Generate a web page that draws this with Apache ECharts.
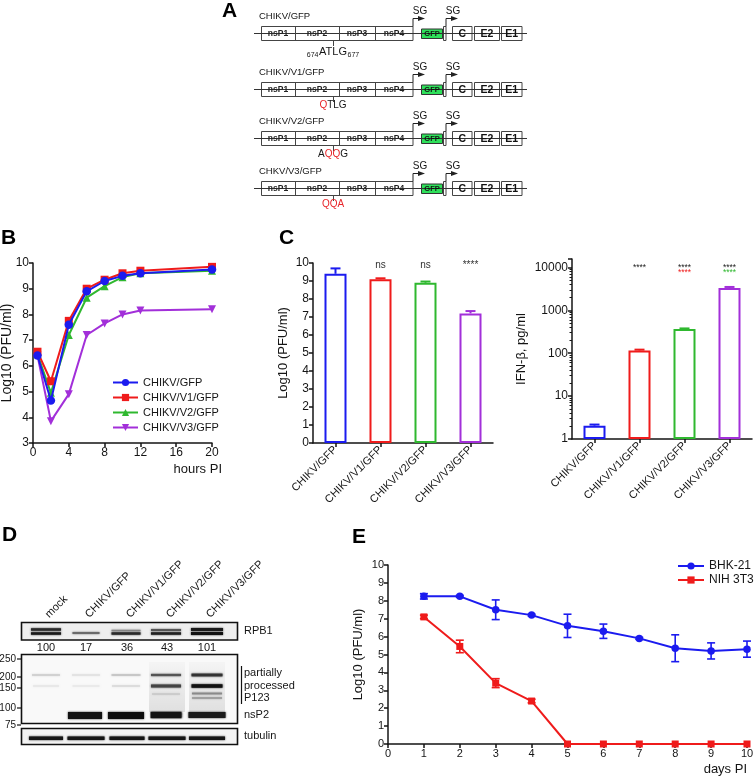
<!DOCTYPE html>
<html><head><meta charset="utf-8">
<script src="https://cdn.jsdelivr.net/npm/echarts@6/dist/echarts.min.js"></script>
<style>html,body{margin:0;padding:0;background:#fff}#c{width:754px;height:780px}</style>
</head><body><div id="c"></div>
<script>
// ---------- Panel B : growth curves ----------
const bHours = [0.5, 2, 4, 6, 8, 10, 12, 20];
const bNames = ['CHIKV/GFP', 'CHIKV/V1/GFP', 'CHIKV/V2/GFP', 'CHIKV/V3/GFP'];
const bGFP = [6.4, 4.65, 7.6, 8.9, 9.3, 9.5, 9.6, 9.75];
const bV1  = [6.55, 5.4, 7.75, 9.0, 9.35, 9.6, 9.7, 9.85];
const bV2  = [6.45, 4.95, 7.2, 8.65, 9.1, 9.45, 9.6, 9.7];
const bV3  = [6.4, 3.85, 4.9, 7.2, 7.65, 8.0, 8.15, 8.2];
// ---------- Panel C : titers and IFN-beta ----------
const cCategories = ['CHIKV/GFP', 'CHIKV/V1/GFP', 'CHIKV/V2/GFP', 'CHIKV/V3/GFP'];
const cTiter    = [9.4, 9.1, 8.9, 7.2];
const cTiterErr = [0.3, 0.05, 0.07, 0.13];
const cTiterSig = ['', 'ns', 'ns', '****'];
const cIfn      = [2.05, 116, 366, 3300];
const cIfnErr   = [0.12, 5, 12, 200];
const cIfnSig1  = ['', '****', '****', '****'];
const cIfnSig2  = ['', '', '****', '****'];
// ---------- Panel D : western blot ----------
const dLanes = ['mock', 'CHIKV/GFP', 'CHIKV/V1/GFP', 'CHIKV/V2/GFP', 'CHIKV/V3/GFP'];
const dRpb1 = [100, 17, 36, 43, 101];
const dMarkers = ['250', '200', '150', '100', '75'];
const dRightLabels = ['RPB1', 'partially', 'processed', 'P123', 'nsP2', 'tubulin'];
// ---------- Panel E : persistence ----------
const eDays = [1, 2, 3, 4, 5, 6, 7, 8, 9, 10];
const eBHK    = [8.25, 8.25, 7.5, 7.2, 6.6, 6.3, 5.9, 5.35, 5.2, 5.3];
const eBHKErr = [0.15, 0.05, 0.55, 0.05, 0.65, 0.4, 0.05, 0.75, 0.45, 0.45];
const eNIH    = [7.1, 5.45, 3.4, 2.4, 0, 0, 0, 0, 0, 0];
const eNIHErr = [0.1, 0.35, 0.25, 0.1, 0, 0, 0, 0, 0, 0];
// ---------- Panel A : constructs ----------
const aConstructs = ['CHIKV/GFP', 'CHIKV/V1/GFP', 'CHIKV/V2/GFP', 'CHKV/V3/GFP'];
const aGenes = ['nsP1', 'nsP2', 'nsP3', 'nsP4'];
const aStructural = ['C', 'E2', 'E1'];

const FONT = 'Liberation Sans, Arial, Helvetica, sans-serif';
const INK = '#151515';
const colB = ['#1b1bef', '#ef1b1b', '#2fb82f', '#a22fd9'];
const RED = '#e8262a';

function valAxis(o) {
  return Object.assign({
    type: 'value',
    nameMoveOverlap: false,
    axisLine: {show: true, onZero: false, lineStyle: {color: INK, width: 1.5}},
    axisTick: {show: true, inside: false, length: 4, lineStyle: {color: INK, width: 1.5}},
    axisLabel: {color: INK, fontSize: 12, fontFamily: FONT, margin: 4},
    splitLine: {show: false},
    nameTextStyle: {color: INK, fontSize: 13, fontFamily: FONT}
  }, o);
}

// ---------- graphic helpers ----------
const G = [];
function T(x, y, text, o) {
  o = o || {};
  const st = {
    text: text, fill: o.fill || INK, fontSize: o.size || 10,
    fontWeight: o.bold ? 'bold' : 'normal', fontFamily: FONT,
    align: o.align || 'left', verticalAlign: o.va || 'middle',
    textAlign: o.align || 'left', textVerticalAlign: o.va || 'middle'
  };
  if (o.rich) st.rich = o.rich;
  G.push({type: 'text', x: x, y: y, rotation: o.rot || 0, z: 100, silent: true, style: st});
}
function R(x, y, w, h, fill, stroke, lw, extra) {
  const st = Object.assign({fill: fill, stroke: stroke || null, lineWidth: lw || 0}, extra || {});
  G.push({type: 'rect', shape: {x: x, y: y, width: w, height: h}, z: 90, silent: true, style: st});
}
function L(x1, y1, x2, y2, stroke, lw) {
  G.push({type: 'line', shape: {x1: x1, y1: y1, x2: x2, y2: y2}, z: 91, silent: true,
    style: {stroke: stroke || INK, lineWidth: lw || 1}});
}
function P(points, fill) {
  G.push({type: 'polygon', shape: {points: points}, z: 92, silent: true, style: {fill: fill}});
}

// panel letters
[['A', 222, 1], ['B', 1, 228], ['C', 279, 228], ['D', 2, 525], ['E', 352, 527]].forEach(p =>
  T(p[1], p[2], p[0], {size: 21, bold: true, va: 'top', fill: '#000'}));

// ---------- Panel A drawing ----------
const rowTops = [26.5, 82.5, 131.5, 181.5];
const mutRich = {
  r: {fill: RED, fontSize: 10, fontFamily: FONT},
  k: {fill: INK, fontSize: 10, fontFamily: FONT}
};
const mutTexts = ['', '{r|Q}{k|TLG}', '{k|A}{r|QQ}{k|G}', '{r|QQA}'];
aConstructs.forEach((name, r) => {
  const t = rowTops[r], mid = t + 7;
  T(259, t - 10, name, {size: 9.5});
  L(254, mid, 527, mid, '#333', 1);
  R(261.5, t, 151.5, 14, '#fff', '#444', 1);
  [295.5, 339.5, 375.5].forEach(x => L(x, t, x, t + 14, '#444', 1));
  const geneCx = [278, 317, 357, 394];
  aGenes.forEach((gn, i) => T(geneCx[i], mid + 0.5, gn, {size: 8.5, bold: true, align: 'center', fill: '#222'}));
  R(421.5, t + 2.5, 21, 9.5, '#2ee05a', '#333', 1);
  T(432, mid + 0.5, 'GFP', {size: 7.5, bold: true, align: 'center', fill: '#111'});
  R(443.5, t, 2.5, 14, '#fff', '#444', 1);
  const sb = [[452.5, 19.5], [474.5, 25], [501.5, 20.5]];
  aStructural.forEach((sname, i) => {
    R(sb[i][0], t, sb[i][1], 14, '#fff', '#444', 1);
    T(sb[i][0] + sb[i][1] / 2, mid + 0.5, sname, {size: 10.5, bold: true, align: 'center', fill: '#111'});
  });
  [413, 446].forEach(x => {
    L(x, t, x, t - 8, '#222', 1);
    L(x, t - 8, x + 7, t - 8, '#222', 1);
    P([[x + 5, t - 10.5], [x + 12, t - 8], [x + 5, t - 5.5]], '#222');
    T(x + 7, t - 15, 'SG', {size: 10, align: 'center'});
  });
  L(333.5, t + 14, 333.5, t + 19.5, '#444', 1);
  if (r === 0) {
    T(333, t + 25.5, 'ATLG', {size: 11, align: 'center'});
    T(318.5, t + 28.5, '674', {size: 7, align: 'right'});
    T(347.5, t + 28.5, '677', {size: 7});
  } else {
    T(333, t + 23, mutTexts[r], {size: 10, align: 'center', rich: mutRich});
  }
});

// ---------- Panel D drawing (blot) ----------
const laneX = [46, 86, 127, 167, 207];
dLanes.forEach((n, i) => T(laneX[i] + 5, 620, n, {size: 11, va: 'bottom', rot: Math.PI / 4}));
R(21.5, 622.5, 216, 17.5, '#eeeeee', '#111', 1.6);
R(21.5, 654.5, 216, 69, '#f9f9f9', '#111', 1.6);
R(21.5, 728.5, 216, 16, '#f3f3f3', '#111', 1.6);
dRpb1.forEach((v, i) => T(laneX[i], 647.5, String(v), {size: 11, align: 'center'}));
const markerY = [659, 677, 688, 708, 725];
dMarkers.forEach((m, i) => { T(16, markerY[i], m, {size: 10, align: 'right'}); L(17, markerY[i], 21, markerY[i], '#111', 1.2); });
const rightY = [631, 673, 686, 698, 715, 736];
dRightLabels.forEach((s, i) => T(244, rightY[i], s, {size: 11}));
L(241.5, 666, 241.5, 704, '#111', 1.2);
function band(cx, cy, w, h, color, blur) {
  R(cx - w / 2, cy - h / 2, w, h, color, null, 0, {shadowBlur: blur == null ? 2 : blur, shadowColor: color});
}
// smear lanes 4 and 5
[3, 4].forEach(i => R(laneX[i] - 18, 662, 36, 50, {
  type: 'linear', x: 0, y: 0, x2: 0, y2: 1,
  colorStops: [{offset: 0, color: 'rgba(0,0,0,0.02)'}, {offset: 1, color: 'rgba(0,0,0,0.10)'}]
}, null, 0));
// RPB1
band(46, 629.5, 30, 2.5, '#2a2a2a'); band(46, 633.5, 30, 2.5, '#1a1a1a');
band(86, 633, 27, 2, '#6a6a6a');
band(126, 630.5, 29, 1.5, '#888'); band(126, 633.5, 29, 2.5, '#2a2a2a');
band(166, 630, 30, 2, '#555'); band(166, 633.5, 30, 2.5, '#222');
band(207, 629.5, 32, 3, '#1a1a1a'); band(207, 633.5, 32, 3, '#111');
// P123 bands (200, 150)
band(46, 675, 28, 1.3, '#c8c8c8'); band(86, 675, 28, 1.2, '#dcdcdc'); band(126, 675, 29, 1.3, '#bbbbbb');
band(166, 675, 30, 2.2, '#555'); band(207, 675, 31, 2.8, '#333');
band(46, 686, 26, 1, '#e0e0e0'); band(86, 686, 27, 1, '#e3e3e3'); band(126, 686, 28, 1.2, '#d4d4d4');
band(166, 686, 30, 3, '#444'); band(207, 686, 31, 3.5, '#111');
band(207, 693.5, 30, 1.8, '#8a8a8a'); band(207, 698, 30, 1.6, '#9a9a9a'); band(166, 694, 28, 1.2, '#c4c4c4');
// nsP2
band(85, 715.5, 34, 7, '#111'); band(126, 715.5, 36, 7, '#0d0d0d');
band(166, 715, 31, 6.5, '#141414'); band(207, 715, 37, 6, '#1a1a1a');
// tubulin
[34, 37, 35, 37, 36].forEach((w, i) => band(laneX[i], 738.2, w, 3.4, '#151515'));

// ---------- ECharts options ----------
const chart = echarts.init(document.getElementById('c'), null, {renderer: 'canvas'});

function errBars(capHalf, lw, colorFn, both) {
  return function (params, api) {
    const x = api.value(0), lo = api.value(1), hi = api.value(2);
    if (!(hi > lo)) return null;
    const a = api.coord([x, lo]), b = api.coord([x, hi]);
    const c = colorFn(params.dataIndex);
    const ch = [
      {type: 'line', shape: {x1: a[0], y1: a[1], x2: b[0], y2: b[1]}, style: {stroke: c, lineWidth: lw}},
      {type: 'line', shape: {x1: b[0] - capHalf, y1: b[1], x2: b[0] + capHalf, y2: b[1]}, style: {stroke: c, lineWidth: lw}}
    ];
    if (both) ch.push({type: 'line', shape: {x1: a[0] - capHalf, y1: a[1], x2: a[0] + capHalf, y2: a[1]}, style: {stroke: c, lineWidth: lw}});
    return {type: 'group', children: ch};
  };
}
function sigText(texts, colorFn, size) {
  return function (params, api) {
    const p = api.coord([api.value(0), api.value(1)]);
    return {type: 'text', x: p[0], y: p[1], style: {
      text: texts[params.dataIndex], fill: colorFn(params.dataIndex), fontSize: size, fontFamily: FONT,
      align: 'center', verticalAlign: 'middle', textAlign: 'center', textVerticalAlign: 'middle'}};
  };
}

const bVals = [bGFP, bV1, bV2, bV3];
const bSymbols = ['circle', 'rect', 'triangle', 'triangle'];
const bSeries = [3, 2, 1, 0].map(i => ({
  name: bNames[i], type: 'line', xAxisIndex: 0, yAxisIndex: 0,
  data: bHours.map((h, k) => [h, bVals[i][k]]),
  symbol: bSymbols[i], symbolSize: i === 0 ? 8.5 : 8, symbolRotate: i === 3 ? 180 : 0,
  color: colB[i], lineStyle: {width: 2, color: colB[i]}, itemStyle: {color: colB[i]}, z: 3 + (3 - i)
}));

const option = {
  animation: false,
  backgroundColor: '#fff',
  textStyle: {fontFamily: FONT},
  grid: [
    {left: 33, top: 263, width: 179, height: 180, containLabel: false, outerBoundsMode: 'none'},
    {left: 313, top: 263, width: 180, height: 180, containLabel: false, outerBoundsMode: 'none'},
    {left: 572, top: 259, width: 180, height: 180, containLabel: false, outerBoundsMode: 'none'},
    {left: 388, top: 565, width: 359, height: 179, containLabel: false, outerBoundsMode: 'none'}
  ],
  xAxis: [
    valAxis({gridIndex: 0, min: 0, max: 20, interval: 4, name: 'hours PI', nameLocation: 'end', nameGap: 10,
      nameTextStyle: {color: INK, fontSize: 13, fontFamily: FONT, align: 'right', verticalAlign: 'top', padding: [20, 0, 0, 0]}}),
    valAxis({gridIndex: 1, type: 'category', data: cCategories,
      axisTick: {show: true, alignWithLabel: true, length: 4, lineStyle: {color: INK, width: 1.5}},
      axisLabel: {color: INK, fontSize: 11, fontFamily: FONT, rotate: 45, interval: 0, margin: 5}}),
    valAxis({gridIndex: 2, type: 'category', data: cCategories,
      axisTick: {show: true, alignWithLabel: true, length: 4, lineStyle: {color: INK, width: 1.5}},
      axisLabel: {color: INK, fontSize: 11, fontFamily: FONT, rotate: 45, interval: 0, margin: 5}}),
    valAxis({gridIndex: 3, min: 0, max: 10, interval: 1, name: 'days PI', nameLocation: 'end', nameGap: 0,
      axisLabel: {color: INK, fontSize: 11, fontFamily: FONT, margin: 4},
      nameTextStyle: {color: INK, fontSize: 13, fontFamily: FONT, align: 'right', verticalAlign: 'top', padding: [19, 0, 0, 0]}})
  ],
  yAxis: [
    valAxis({gridIndex: 0, min: 3, max: 10, interval: 1, name: 'Log10 (PFU/ml)', nameLocation: 'middle', nameGap: 19,
      nameTextStyle: {color: INK, fontSize: 14, fontFamily: FONT}}),
    valAxis({gridIndex: 1, min: 0, max: 10, interval: 1, name: 'Log10 (PFU/ml)', nameLocation: 'middle', nameGap: 23}),
    valAxis({gridIndex: 2, type: 'log', logBase: 10, min: 1, max: 15700, name: 'IFN-\u03b2, pg/ml', nameLocation: 'middle', nameGap: 44,
      axisLabel: {color: INK, fontSize: 12, fontFamily: FONT, margin: 4, showMaxLabel: false,
        formatter: v => String(Math.round(v))},
      minorTick: {show: true, splitNumber: 9, length: 2.5, lineStyle: {color: INK, width: 1}}}),
    valAxis({gridIndex: 3, min: 0, max: 10, interval: 1, name: 'Log10 (PFU/ml)', nameLocation: 'middle', nameGap: 23,
      axisLabel: {color: INK, fontSize: 11, fontFamily: FONT, margin: 4}})
  ],
  legend: [
    {data: bNames, orient: 'vertical', left: 107, top: 372, itemGap: 4, itemWidth: 25, itemHeight: 9,
      textStyle: {color: INK, fontSize: 11, fontFamily: FONT}, selectedMode: false},
    {data: ['BHK-21', 'NIH 3T3'], orient: 'vertical', left: 672, top: 555, itemGap: 2, itemWidth: 26, itemHeight: 9,
      textStyle: {color: INK, fontSize: 12, fontFamily: FONT}, selectedMode: false}
  ],
  series: bSeries.concat([
    {name: 'titer', type: 'bar', xAxisIndex: 1, yAxisIndex: 1, barWidth: 22,
      data: cTiter.map((v, i) => ({value: v, itemStyle: {color: '#fff', borderColor: colB[i], borderWidth: 2}}))},
    {name: 'titerErr', type: 'custom', xAxisIndex: 1, yAxisIndex: 1, z: 4,
      data: cTiter.map((v, i) => [i, v, v + cTiterErr[i]]), renderItem: errBars(5, 2, i => colB[i], false)},
    {name: 'titerSig', type: 'custom', xAxisIndex: 1, yAxisIndex: 1, z: 5, silent: true,
      data: cTiter.map((v, i) => [i, 9.85]), renderItem: sigText(cTiterSig, () => '#333', 10)},
    {name: 'ifn', type: 'bar', xAxisIndex: 2, yAxisIndex: 2, barWidth: 22,
      data: cIfn.map((v, i) => ({value: v, itemStyle: {color: '#fff', borderColor: colB[i], borderWidth: 2}}))},
    {name: 'ifnErr', type: 'custom', xAxisIndex: 2, yAxisIndex: 2, z: 4,
      data: cIfn.map((v, i) => [i, v, v + cIfnErr[i]]), renderItem: errBars(5, 2, i => colB[i], false)},
    {name: 'ifnSig1', type: 'custom', xAxisIndex: 2, yAxisIndex: 2, z: 5, silent: true,
      data: cIfn.map((v, i) => [i, 10000]), renderItem: sigText(cIfnSig1, () => '#222', 8.5)},
    {name: 'ifnSig2', type: 'custom', xAxisIndex: 2, yAxisIndex: 2, z: 5, silent: true,
      data: cIfn.map((v, i) => [i, 7600]), renderItem: sigText(cIfnSig2, i => colB[i - 1] || '#222', 8.5)},
    {name: 'BHK-21', type: 'line', xAxisIndex: 3, yAxisIndex: 3, data: eDays.map((d, i) => [d, eBHK[i]]),
      symbol: 'circle', symbolSize: 7.5, color: colB[0], lineStyle: {width: 2, color: colB[0]}, itemStyle: {color: colB[0]}, z: 4},
    {name: 'NIH 3T3', type: 'line', xAxisIndex: 3, yAxisIndex: 3, data: eDays.map((d, i) => [d, eNIH[i]]),
      symbol: 'rect', symbolSize: 7, color: colB[1], lineStyle: {width: 2, color: colB[1]}, itemStyle: {color: colB[1]}, z: 3, clip: false},
    {name: 'bhkErr', type: 'custom', xAxisIndex: 3, yAxisIndex: 3, z: 5,
      data: eDays.map((d, i) => [d, eBHK[i] - eBHKErr[i], eBHK[i] + eBHKErr[i]]), renderItem: errBars(4, 1.6, () => colB[0], true)},
    {name: 'nihErr', type: 'custom', xAxisIndex: 3, yAxisIndex: 3, z: 5,
      data: eDays.map((d, i) => [d, eNIH[i] - eNIHErr[i], eNIH[i] + eNIHErr[i]]), renderItem: errBars(4, 1.6, () => colB[1], true)}
  ]),
  graphic: {elements: G}
};
chart.setOption(option);
</script>
</body></html>
